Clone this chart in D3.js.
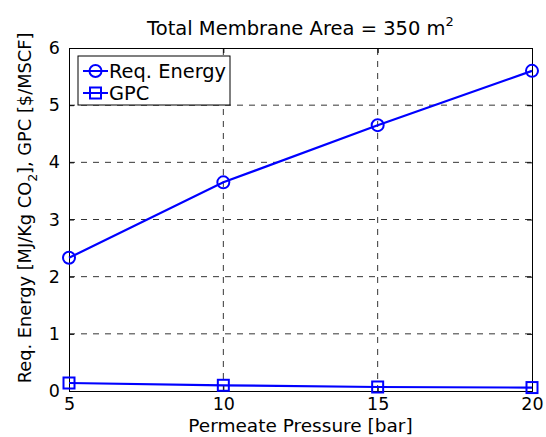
<!DOCTYPE html>
<html><head><meta charset="utf-8">
<script src="https://cdn.jsdelivr.net/npm/d3@7"></script>
<style>body{margin:0;background:#fff}svg{display:block}text{font-family:"DejaVu Sans",Verdana,sans-serif}</style>
</head><body>
<script>
const pressure = [5, 10, 15, 20];
const reqEnergy = [2.33, 3.65, 4.65, 5.6];
const gpc = [0.14, 0.10, 0.07, 0.06];
const xTicks = [5, 10, 15, 20];
const yTicks = [0, 1, 2, 3, 4, 5, 6];

const W = 546, H = 437;
const m = {l: 69, r: 14, t: 48, b: 46};
const svg = d3.select("body").append("svg").attr("width", W).attr("height", H);
const x = d3.scaleLinear().domain([5, 20]).range([m.l, W - m.r]);
const y = d3.scaleLinear().domain([0, 6]).range([H - m.b, m.t]);

// grid
svg.append("g").selectAll("line").data(xTicks.slice(1, -1)).join("line")
  .attr("x1", d => x(d)).attr("x2", d => x(d)).attr("y1", y(0)).attr("y2", y(6))
  .attr("stroke", "#000").attr("stroke-width", 0.8).attr("stroke-dasharray", "6,6");
svg.append("g").selectAll("line").data(yTicks.slice(1, -1)).join("line")
  .attr("y1", d => y(d)).attr("y2", d => y(d)).attr("x1", x(5)).attr("x2", x(20))
  .attr("stroke", "#000").attr("stroke-width", 0.8).attr("stroke-dasharray", "6,6");

// axes
const ax = svg.append("g").attr("transform", `translate(0,${y(0)})`)
  .call(d3.axisBottom(x).tickValues(xTicks).tickSize(-5).tickPadding(4).tickFormat(d3.format("d")));
const axT = svg.append("g").attr("transform", `translate(0,${y(6)})`)
  .call(d3.axisTop(x).tickValues(xTicks).tickSize(-5).tickFormat(""));
const ay = svg.append("g").attr("transform", `translate(${x(5)},0)`)
  .call(d3.axisLeft(y).tickValues(yTicks).tickSize(-5).tickPadding(9).tickFormat(d3.format("d")));
const ayR = svg.append("g").attr("transform", `translate(${x(20)},0)`)
  .call(d3.axisRight(y).tickValues(yTicks).tickSize(-5).tickFormat(""));
[ax, axT, ay, ayR].forEach(g => {
  g.select(".domain").attr("stroke", "#000").attr("stroke-width", 1);
  g.selectAll("text").attr("font-size", 17.5).attr("fill", "#000").style("font-family", '"DejaVu Sans",sans-serif');
});
ax.selectAll("text").attr("dy", "0.85em");

// lines
const line = d3.line().x((d, i) => x(pressure[i])).y(d => y(d));
const blue = "#0000ff";
svg.append("path").datum(reqEnergy).attr("d", line).attr("fill", "none").attr("stroke", blue).attr("stroke-width", 2.2);
svg.append("path").datum(gpc).attr("d", line).attr("fill", "none").attr("stroke", blue).attr("stroke-width", 2.2);
svg.append("g").selectAll("circle").data(reqEnergy).join("circle")
  .attr("cx", (d, i) => x(pressure[i])).attr("cy", d => y(d)).attr("r", 6)
  .attr("fill", "none").attr("stroke", blue).attr("stroke-width", 2);
svg.append("g").selectAll("rect").data(gpc).join("rect")
  .attr("x", (d, i) => x(pressure[i]) - 5.5).attr("y", d => y(d) - 5.5).attr("width", 11).attr("height", 11)
  .attr("fill", "none").attr("stroke", blue).attr("stroke-width", 2);

// legend
const lg = svg.append("g");
lg.append("rect").attr("x", 78).attr("y", 56).attr("width", 152).attr("height", 49)
  .attr("fill", "#fff").attr("stroke", "#000").attr("stroke-width", 1);
const entries = [{name: "Req. Energy", mk: "c", yy: 71}, {name: "GPC", mk: "s", yy: 93}];
entries.forEach(e => {
  lg.append("line").attr("x1", 83).attr("x2", 108).attr("y1", e.yy).attr("y2", e.yy).attr("stroke", blue).attr("stroke-width", 2);
  if (e.mk === "c") lg.append("circle").attr("cx", 95.5).attr("cy", e.yy).attr("r", 6).attr("fill", "none").attr("stroke", blue).attr("stroke-width", 2);
  else lg.append("rect").attr("x", 90).attr("y", e.yy - 5.5).attr("width", 11).attr("height", 11).attr("fill", "none").attr("stroke", blue).attr("stroke-width", 2);
  lg.append("text").attr("x", 109).attr("y", e.yy + 7).attr("font-size", 19.4).text(e.name);
});

// title
const t = svg.append("text").attr("x", (m.l + W - m.r) / 2).attr("y", 35).attr("text-anchor", "middle").attr("font-size", 19.5);
t.append("tspan").text("Total Membrane Area = 350 m");
t.append("tspan").attr("dy", -9).attr("font-size", 13).text("2");

// x label
svg.append("text").attr("x", (m.l + W - m.r) / 2).attr("y", 432).attr("text-anchor", "middle").attr("font-size", 18.5).text("Permeate Pressure [bar]");

// y label
const yl = svg.append("text").attr("transform", `translate(31,208) rotate(-90)`)
  .attr("text-anchor", "middle").attr("font-size", 17.8);
yl.append("tspan").text("Req. Energy [MJ/Kg CO");
yl.append("tspan").attr("dy", 6).attr("font-size", 12.5).text("2");
yl.append("tspan").attr("dy", -6).text("], GPC [$/MSCF]");
</script>
</body></html>
